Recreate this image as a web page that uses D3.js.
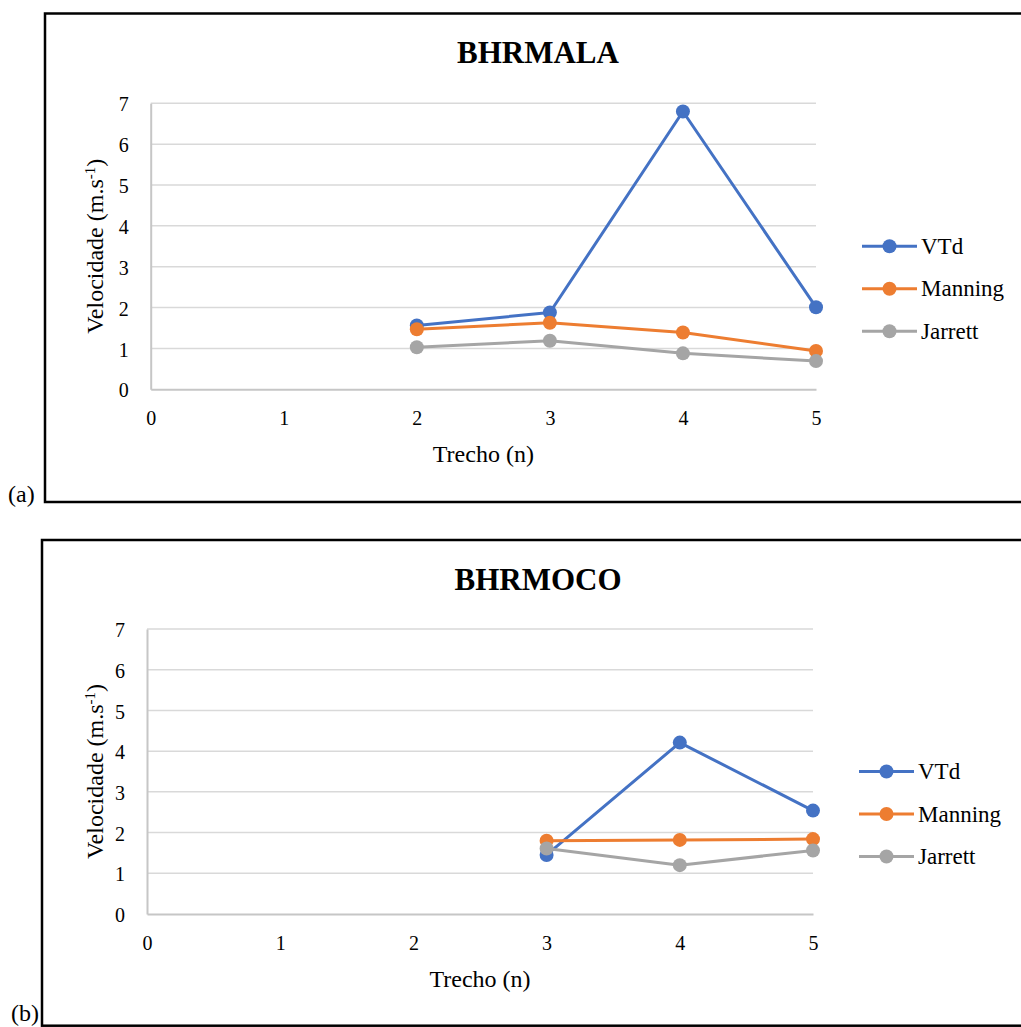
<!DOCTYPE html>
<html>
<head>
<meta charset="utf-8">
<script src="https://cdn.jsdelivr.net/npm/d3@7"></script>
<style>
  body { margin: 0; background: #fff; }
  svg text { font-family: "Liberation Serif", "Times New Roman", serif; fill: #000; }
</style>
</head>
<body>
<div id="chart"></div>
<script>
// tick values
const trechoTicks = [0, 1, 2, 3, 4, 5];
const velocidadeTicks = [0, 1, 2, 3, 4, 5, 6, 7];

const seriesNames = ['VTd', 'Manning', 'Jarrett'];
const seriesColors = ['#4472C4', '#ED7D31', '#A5A5A5'];

// (a) BHRMALA
const malaTrecho = [2, 3, 4, 5];
const malaVTd = [1.56, 1.88, 6.8, 2.01];
const malaManning = [1.47, 1.63, 1.39, 0.94];
const malaJarrett = [1.03, 1.19, 0.88, 0.69];

// (b) BHRMOCO
const mocoTrecho = [3, 4, 5];
const mocoVTd = [1.45, 4.21, 2.54];
const mocoManning = [1.8, 1.82, 1.84];
const mocoJarrett = [1.61, 1.2, 1.56];

const W = 1021, H = 1027;
const serif = '"Liberation Serif", "Times New Roman", serif';

const svg = d3.select('#chart').append('svg')
    .attr('width', W)
    .attr('height', H);

// panel layouts (pixels)
const panels = [
    {
        tag: '(a)', title: 'BHRMALA',
        box: { x: 45, y: 13.5, bottom: 502 },
        plot: { left: 150.7, right: 816, top: 103.3, bottom: 389.3 },
        tagPos: [8, 502],
        trecho: malaTrecho,
        values: [malaVTd, malaManning, malaJarrett]
    },
    {
        tag: '(b)', title: 'BHRMOCO',
        box: { x: 42, y: 540, bottom: 1025.7 },
        plot: { left: 147, right: 813, top: 629, bottom: 914 },
        tagPos: [11, 1021],
        trecho: mocoTrecho,
        values: [mocoVTd, mocoManning, mocoJarrett]
    }
];

panels.forEach(drawPanel);

function drawPanel(p) {
    const g = svg.append('g');

    // outer frame (runs off the right edge)
    g.append('rect')
        .attr('x', p.box.x)
        .attr('y', p.box.y)
        .attr('width', W + 20 - p.box.x)
        .attr('height', p.box.bottom - p.box.y)
        .attr('fill', 'none')
        .attr('stroke', '#000')
        .attr('stroke-width', 2.5);

    g.append('text')
        .attr('x', p.tagPos[0])
        .attr('y', p.tagPos[1])
        .style('font-family', serif)
        .style('font-size', '24px')
        .text(p.tag);

    let x = d3.scaleLinear().domain([0, 5]).range([p.plot.left, p.plot.right]);
    let y = d3.scaleLinear().domain([0, 7]).range([p.plot.bottom, p.plot.top]);

    // title
    g.append('text')
        .attr('x', 538)
        .attr('y', p.box.y + 49.5)
        .attr('text-anchor', 'middle')
        .style('font-family', serif)
        .style('font-size', '31px')
        .style('font-weight', 'bold')
        .text(p.title);

    // gridlines
    g.append('g')
        .selectAll('line')
        .data(velocidadeTicks.filter(d => d > 0))
        .enter().append('line')
        .attr('x1', x(0))
        .attr('x2', x(5))
        .attr('y1', d => y(d))
        .attr('y2', d => y(d))
        .attr('stroke', '#d9d9d9')
        .attr('stroke-width', 1.5);

    // y axis
    let yAxis = g.append('g')
        .attr('transform', `translate(${x(0)},0)`)
        .call(d3.axisLeft(y).tickValues(velocidadeTicks).tickFormat(d3.format('d'))
            .tickSize(0).tickPadding(22));
    yAxis.select('.domain').attr('stroke', '#c6c6c6').attr('stroke-width', 2);
    yAxis.selectAll('text')
        .attr('dy', '0.38em')
        .style('font-family', serif)
        .style('font-size', '20px')
        .attr('fill', '#000');

    // x axis
    let xAxis = g.append('g')
        .attr('transform', `translate(0,${y(0)})`)
        .call(d3.axisBottom(x).tickValues(trechoTicks).tickFormat(d3.format('d'))
            .tickSize(0).tickPadding(22));
    xAxis.select('.domain').attr('stroke', '#c6c6c6').attr('stroke-width', 2);
    xAxis.selectAll('text')
        .style('font-family', serif)
        .style('font-size', '20px')
        .attr('fill', '#000');

    // axis titles
    g.append('text')
        .attr('x', (x(0) + x(5)) / 2)
        .attr('y', y(0) + 73)
        .attr('text-anchor', 'middle')
        .style('font-family', serif)
        .style('font-size', '24px')
        .text('Trecho (n)');

    let yt = g.append('text')
        .attr('transform', `translate(103,${(y(0) + y(7)) / 2}) rotate(-90)`)
        .attr('text-anchor', 'middle')
        .style('font-family', serif)
        .style('font-size', '24px');
    yt.append('tspan').text('Velocidade (m.s');
    yt.append('tspan').attr('dy', -8).style('font-size', '15px').text('-1');
    yt.append('tspan').attr('dy', 8).text(')');

    // series
    let line = d3.line()
        .x(d => x(d[0]))
        .y(d => y(d[1]));

    p.values.forEach((vals, i) => {
        let pts = p.trecho.map((t, j) => [t, vals[j]]);
        g.append('path')
            .datum(pts)
            .attr('d', line)
            .attr('fill', 'none')
            .attr('stroke', seriesColors[i])
            .attr('stroke-width', 3)
            .attr('stroke-linejoin', 'round');
        g.append('g')
            .selectAll('circle')
            .data(pts)
            .enter().append('circle')
            .attr('cx', d => x(d[0]))
            .attr('cy', d => y(d[1]))
            .attr('r', 7)
            .attr('fill', seriesColors[i]);
    });

    // legend
    let legendY = (y(0) + y(7)) / 2;
    let legend = g.selectAll('.legend-item')
        .data(seriesNames)
        .enter().append('g')
        .attr('class', 'legend-item')
        .attr('transform', (d, i) => `translate(${x(5) + 46},${legendY + i * 42.5})`);

    legend.append('line')
        .attr('x1', 0).attr('x2', 55)
        .attr('y1', 0).attr('y2', 0)
        .attr('stroke', (d, i) => seriesColors[i])
        .attr('stroke-width', 3);
    legend.append('circle')
        .attr('cx', 27.5).attr('cy', 0).attr('r', 7)
        .attr('fill', (d, i) => seriesColors[i]);
    legend.append('text')
        .attr('x', 59)
        .attr('y', 0)
        .attr('dy', '0.33em')
        .style('font-family', serif)
        .style('font-size', '23px')
        .text(d => d);
}
</script>
</body>
</html>
